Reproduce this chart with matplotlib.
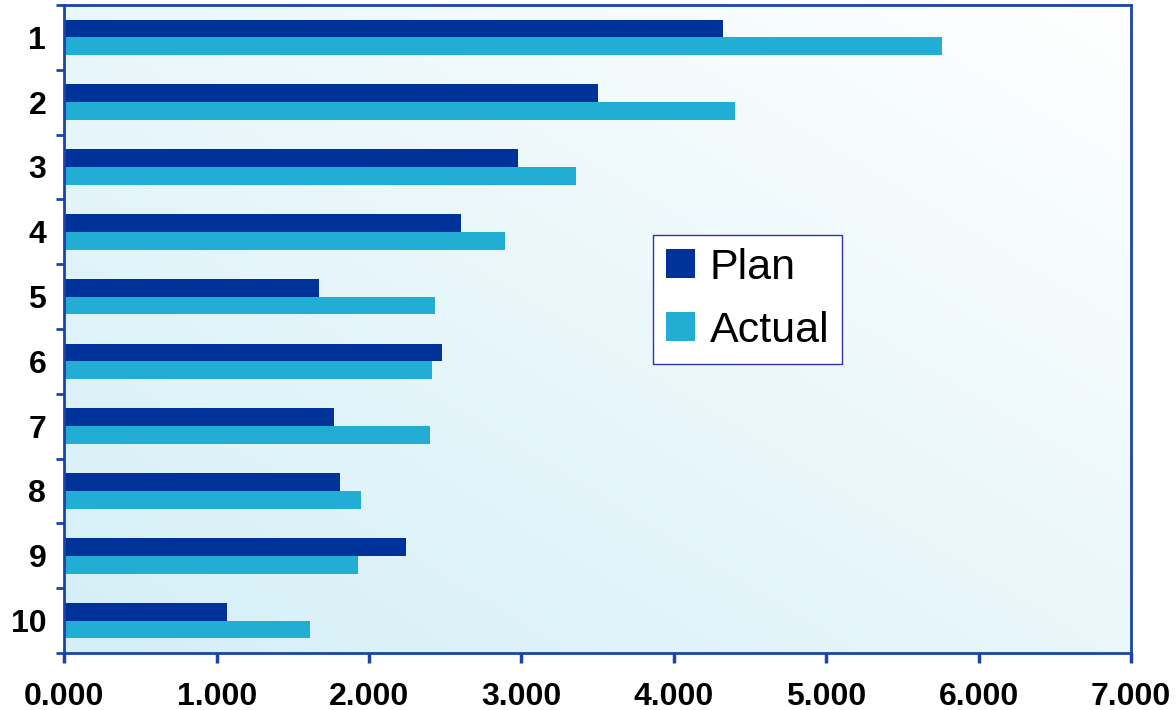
import numpy as np
import matplotlib.pyplot as plt
from matplotlib.colors import LinearSegmentedColormap

categories = ['1', '2', '3', '4', '5', '6', '7', '8', '9', '10']
plan = [4.32, 3.50, 2.98, 2.60, 1.67, 2.48, 1.77, 1.81, 2.24, 1.07]
actual = [5.76, 4.40, 3.36, 2.89, 2.43, 2.41, 2.40, 1.95, 1.93, 1.61]
x_ticks = [0, 1, 2, 3, 4, 5, 6, 7]

plan_color = '#003399'
actual_color = '#22aed4'
axis_color = '#1a44a8'

plt.rcParams['font.family'] = ['Liberation Sans', 'DejaVu Sans']

fig = plt.figure(figsize=(11.76, 7.10), dpi=100)
ax = fig.add_axes([64.3 / 1176, 1 - 653 / 710, (1131 - 64.3) / 1176, (653 - 5) / 710])

# background gradient: light cyan bottom-left -> white top-right
gx, gy = np.meshgrid(np.linspace(0, 1, 200), np.linspace(0, 1, 200))
grad = (gx + gy) / 2
cmap = LinearSegmentedColormap.from_list('bg', ['#d4eff7', '#ffffff'])
ax.imshow(grad, extent=(0, 1, 0, 1), transform=ax.transAxes, cmap=cmap,
          origin='lower', aspect='auto', zorder=0)

y = np.arange(len(categories))
h = 0.275
ax.barh(y - h / 2, plan, height=h, color=plan_color, label='Plan', zorder=2)
ax.barh(y + h / 2, actual, height=h, color=actual_color, label='Actual', zorder=2)

ax.set_xlim(0, 7)
ax.set_ylim(len(categories) - 0.5, -0.5)

ax.set_xticks(x_ticks)
ax.set_xticklabels(['%.3f' % v for v in x_ticks], fontsize=23, fontweight='bold')
ax.set_yticks(y)
ax.set_yticklabels(categories, fontsize=23, fontweight='bold')
ax.set_yticks(np.arange(len(categories) + 1) - 0.5, minor=True)
ax.tick_params(axis='y', which='major', length=0, pad=13)
ax.tick_params(axis='y', which='minor', length=6, width=2, color=axis_color)
ax.tick_params(axis='x', length=7, width=2.5, color=axis_color, pad=14)

for s in ax.spines.values():
    s.set_color(axis_color)
    s.set_linewidth(2)

leg = ax.legend(loc='upper left', bbox_to_anchor=(653 / 1176, 1 - 235 / 710),
                bbox_transform=fig.transFigure, fontsize=31, frameon=True,
                fancybox=False, handlelength=0.67, handleheight=0.67,
                handletextpad=0.35, borderpad=0.3, labelspacing=0.53,
                borderaxespad=0)
leg.get_frame().set_edgecolor('#3333aa')
leg.get_frame().set_linewidth(1)
leg.get_frame().set_facecolor('white')
leg.get_frame().set_alpha(1)

fig.savefig('out.png', dpi=100)
